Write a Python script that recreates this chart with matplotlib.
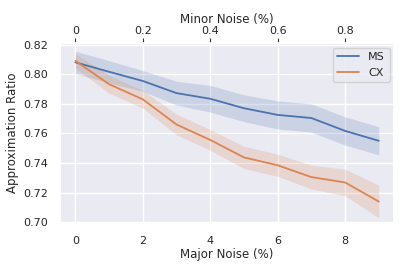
import numpy as np
import matplotlib
matplotlib.use("Agg")
import matplotlib.pyplot as plt
import seaborn as sns

major_noise = [0, 1, 2, 3, 4, 5, 6, 7, 8, 9]
ms_mean = [0.808, 0.8016, 0.7954, 0.7872, 0.7834, 0.777, 0.7725, 0.7704, 0.7617, 0.755]
ms_half = [0.0075, 0.0075, 0.007, 0.008, 0.009, 0.009, 0.0095, 0.0095, 0.0095, 0.0095]
cx_mean = [0.809, 0.7932, 0.783, 0.766, 0.7556, 0.7438, 0.7385, 0.7305, 0.7269, 0.714]
cx_half = [0.005, 0.006, 0.006, 0.007, 0.007, 0.0075, 0.0075, 0.008, 0.009, 0.011]
minor_ticks = [0, 0.2, 0.4, 0.6, 0.8]
minor_labels = ["0", "0.2", "0.4", "0.6", "0.8"]

sns.set_theme(style="darkgrid")
plt.rcParams["font.family"] = ["DejaVu Sans"]

fig, ax = plt.subplots(figsize=(4.07, 2.71), dpi=100)
fig.subplots_adjust(left=0.148, right=0.968, top=0.84, bottom=0.177)

x = np.array(major_noise)
for mean, half, name in [(ms_mean, ms_half, "MS"), (cx_mean, cx_half, "CX")]:
    mean = np.array(mean)
    half = np.array(half)
    line, = ax.plot(x, mean, label=name, lw=1.3)
    ax.fill_between(x, mean - half, mean + half, color=line.get_color(), alpha=0.2, lw=0)

ax.set_ylim(0.6995, 0.8208)
ax.set_yticks([0.70, 0.72, 0.74, 0.76, 0.78, 0.80, 0.82])
ax.set_xticks([0, 2, 4, 6, 8])
ax.set_xlabel("Major Noise (%)", fontsize=8.5, labelpad=2)
ax.set_ylabel("Approximation Ratio", fontsize=8.5, labelpad=3)
ax.legend(loc="upper right", fontsize=8, handlelength=2.0, borderaxespad=0.4)

ax2 = ax.twiny()
lo, hi = ax.get_xlim()
ax2.set_xlim(lo / 10, hi / 10)
ax2.set_xticks(minor_ticks)
ax2.set_xticklabels(minor_labels)
ax2.grid(False)
ax2.tick_params(axis="x", top=True, length=3.5, width=0.8, color="#333333", labelsize=8, pad=2)
ax2.set_xlabel("Minor Noise (%)", fontsize=8.5, labelpad=2)

# twiny turns bottom ticks back on for the main axis
ax.tick_params(axis="x", bottom=False, top=False, labelsize=8, pad=3)
ax.tick_params(axis="y", left=False, labelsize=8, pad=3)

fig.savefig("out.png", dpi=100)
